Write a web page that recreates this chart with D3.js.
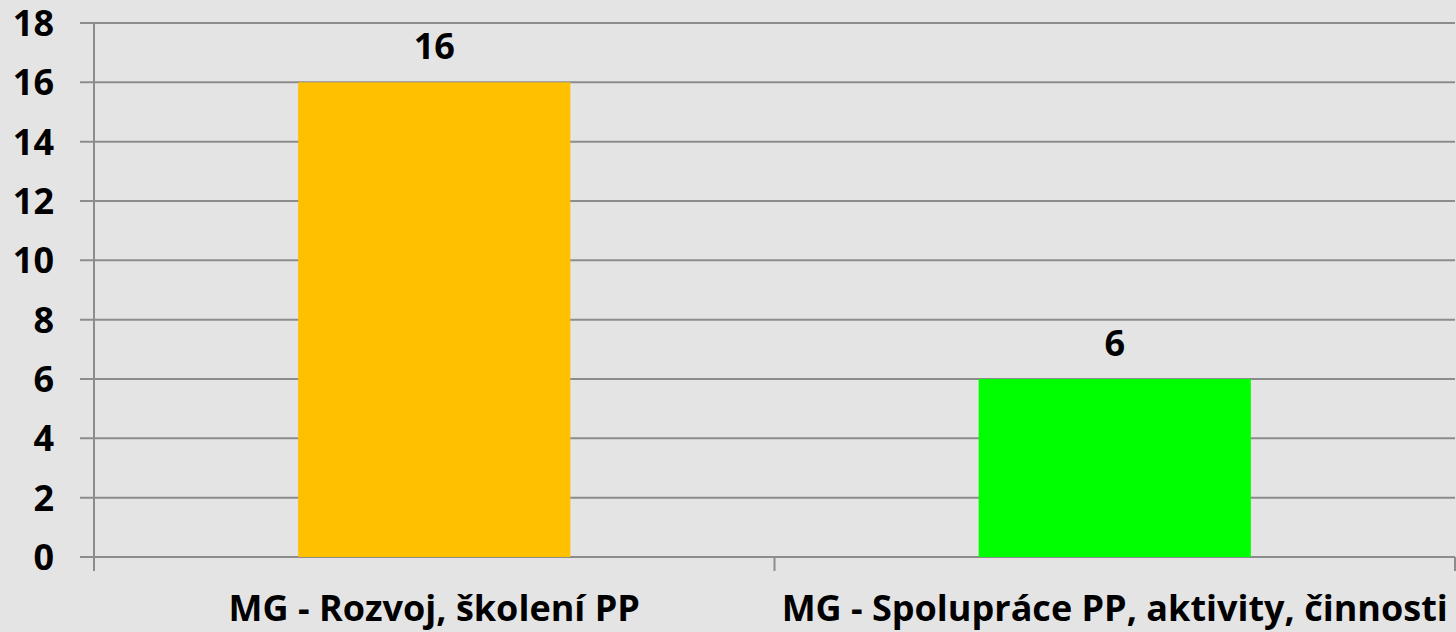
<!DOCTYPE html>
<html>
<head>
<meta charset="utf-8">
<script src="https://cdn.jsdelivr.net/npm/d3@7"></script>
<style>
  html, body { margin: 0; padding: 0; background: #e4e4e4; }
  svg text { font-family: "Open Sans", sans-serif; font-weight: bold; fill: #000; }
</style>
</head>
<body>
<div id="chart"></div>
<script>
'use strict';

var categories = ["MG - Rozvoj, školení PP", "MG - Spolupráce PP, aktivity, činnosti"];
var values = [16, 6];
var barColors = ["#ffc000", "#00ff00"];
var yTicks = [0, 2, 4, 6, 8, 10, 12, 14, 16, 18];

var width = 1456, height = 632;
var margin = { top: 23, right: 1, bottom: 75, left: 94 };

var svg = d3.select("#chart")
  .append("svg")
  .attr("width", width)
  .attr("height", height);

var x = d3.scaleBand()
  .domain(categories)
  .range([margin.left, width - margin.right])
  .paddingInner(0.6)
  .paddingOuter(0.3);

var y = d3.scaleLinear()
  .domain([0, 18])
  .range([height - margin.bottom, margin.top]);

// gridlines
svg.append("g")
  .selectAll("line")
  .data(yTicks)
  .enter()
  .append("line")
  .attr("x1", margin.left - 14)
  .attr("x2", width - margin.right)
  .attr("y1", function(d) { return y(d); })
  .attr("y2", function(d) { return y(d); })
  .attr("stroke", "#8c8c8c")
  .attr("stroke-width", 2);

// y axis line
svg.append("line")
  .attr("x1", margin.left).attr("x2", margin.left)
  .attr("y1", y(18)).attr("y2", y(0) + 14)
  .attr("stroke", "#8c8c8c")
  .attr("stroke-width", 2);

// x tick marks at category boundaries
var step = x.step();
var bounds = [0, 1, 2].map(function(i) { return margin.left + i * step; });
svg.append("g")
  .selectAll("line")
  .data(bounds)
  .enter()
  .append("line")
  .attr("x1", function(d) { return Math.min(d, width - 1); })
  .attr("x2", function(d) { return Math.min(d, width - 1); })
  .attr("y1", y(0))
  .attr("y2", y(0) + 14)
  .attr("stroke", "#8c8c8c")
  .attr("stroke-width", 2);

// y tick labels
svg.append("g")
  .selectAll("text")
  .data(yTicks)
  .enter()
  .append("text")
  .attr("x", 54)
  .attr("y", function(d) { return y(d); })
  .attr("dy", "0.36em")
  .attr("text-anchor", "end")
  .style("font-size", "36px")
  .text(function(d) { return d; });

// bars
svg.append("g")
  .selectAll("rect")
  .data(values)
  .enter()
  .append("rect")
  .attr("x", function(d, i) { return x(categories[i]); })
  .attr("y", function(d) { return y(d); })
  .attr("width", x.bandwidth())
  .attr("height", function(d) { return y(0) - y(d); })
  .attr("fill", function(d, i) { return barColors[i]; });

// value labels
svg.append("g")
  .selectAll("text")
  .data(values)
  .enter()
  .append("text")
  .attr("x", function(d, i) { return x(categories[i]) + x.bandwidth() / 2; })
  .attr("y", function(d) { return y(d) - 23; })
  .attr("text-anchor", "middle")
  .style("font-size", "36px")
  .text(function(d) { return d; });

// category labels
svg.append("g")
  .selectAll("text")
  .data(categories)
  .enter()
  .append("text")
  .attr("x", function(d) { return x(d) + x.bandwidth() / 2; })
  .attr("y", 621)
  .attr("text-anchor", "middle")
  .style("font-size", "36px")
  .text(function(d) { return d; });
</script>
</body>
</html>
